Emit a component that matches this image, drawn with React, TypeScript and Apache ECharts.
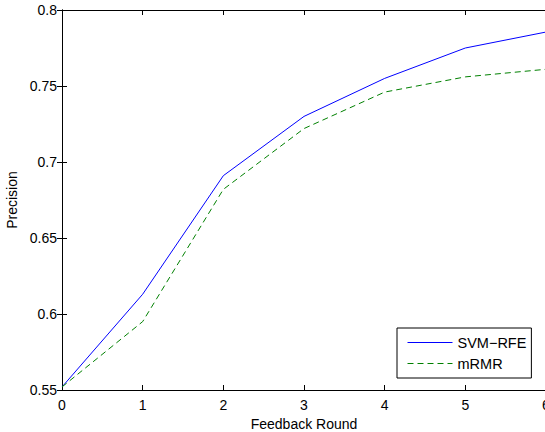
import React, { useEffect, useRef } from "react";
import * as echarts from "echarts";

const rounds = [0, 1, 2, 3, 4, 5, 6];
const svmRfe = [0.552, 0.613, 0.691, 0.730, 0.755, 0.775, 0.7855];
const mrmr = [0.552, 0.595, 0.682, 0.722, 0.746, 0.756, 0.761];
const seriesNames = ["SVM\u2212RFE", "mRMR"];
const xTitle = "Feedback Round";
const yTitle = "Precision";

const FONT = "'Liberation Sans', Arial, Helvetica, sans-serif";

export default function App() {
  const ref = useRef<HTMLDivElement>(null);
  useEffect(() => {
    if (!ref.current) return;
    const chart = echarts.init(ref.current, undefined, { renderer: "svg" });
    const axisCommon = {
      axisLine: { show: true, lineStyle: { color: "#000", width: 1 } },
      axisTick: { show: true, inside: true, length: 5, lineStyle: { color: "#000", width: 1 } },
      splitLine: { show: false },
    };
    chart.setOption({
      animation: false,
      backgroundColor: "#fff",
      textStyle: { fontFamily: FONT },
      grid: {
        left: 62,
        top: 10,
        width: 484,
        height: 380,
        containLabel: false,
        outerBoundsMode: "none",
      },
      xAxis: [
        {
          type: "value",
          min: 0,
          max: 6,
          interval: 1,
          position: "bottom",
          name: xTitle,
          nameLocation: "middle",
          nameGap: 26,
          nameTextStyle: { color: "#000", fontSize: 14, fontFamily: FONT },
          axisLabel: { color: "#000", fontSize: 14, margin: 8, fontFamily: FONT },
          ...axisCommon,
        },
        {
          type: "value",
          min: 0,
          max: 6,
          interval: 1,
          position: "top",
          axisLabel: { show: false },
          ...axisCommon,
        },
      ],
      yAxis: [
        {
          type: "value",
          min: 0.55,
          max: 0.8,
          interval: 0.05,
          position: "left",
          name: yTitle,
          nameLocation: "middle",
          nameGap: 42,
          nameRotate: 90,
          nameTextStyle: { color: "#000", fontSize: 14, fontFamily: FONT },
          axisLabel: {
            color: "#000",
            fontSize: 14,
            margin: 5,
            fontFamily: FONT,
            formatter: (v: number) => String(parseFloat(v.toFixed(2))),
          },
          ...axisCommon,
        },
        {
          type: "value",
          min: 0.55,
          max: 0.8,
          interval: 0.05,
          position: "right",
          axisLabel: { show: false },
          ...axisCommon,
        },
      ],
      legend: {
        orient: "vertical",
        left: 397,
        top: 328,
        padding: [7, 5, 7, 10],
        itemGap: 6,
        itemWidth: 45,
        itemHeight: 14,
        borderColor: "#000",
        borderWidth: 1,
        backgroundColor: "#fff",
        itemStyle: { opacity: 0 },
        lineStyle: { width: 1 },
        textStyle: { color: "#000", fontSize: 14.5, fontFamily: FONT },
        data: seriesNames,
      },
      series: [
        {
          name: seriesNames[0],
          type: "line",
          data: rounds.map((r, i) => [r, svmRfe[i]]),
          symbol: "none",
          lineStyle: { color: "#0000ff", width: 1 },
          itemStyle: { color: "#0000ff" },
        },
        {
          name: seriesNames[1],
          type: "line",
          data: rounds.map((r, i) => [r, mrmr[i]]),
          symbol: "none",
          lineStyle: { color: "#008000", width: 1, type: [6, 4] },
          itemStyle: { color: "#008000" },
        },
      ],
    });
    return () => chart.dispose();
  }, []);
  return (
    <div
      ref={ref}
      style={{ position: "fixed", left: 0, top: 0, width: 545, height: 432 }}
    />
  );
}
